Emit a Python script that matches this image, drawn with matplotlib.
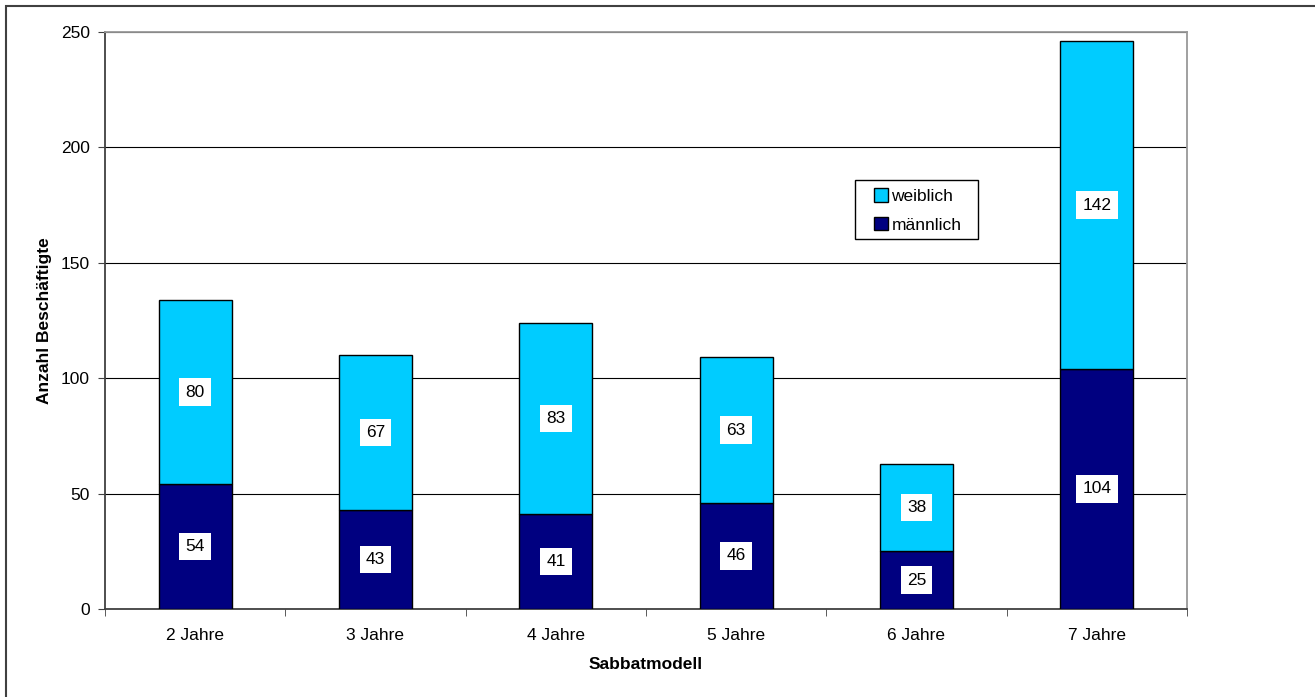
import matplotlib.pyplot as plt
from matplotlib.patches import Rectangle
import numpy as np

plt.rcParams['font.family'] = ['Liberation Sans', 'DejaVu Sans']

categories = ['2 Jahre', '3 Jahre', '4 Jahre', '5 Jahre', '6 Jahre', '7 Jahre']
maennlich = [54, 43, 41, 46, 25, 104]
weiblich = [80, 67, 83, 63, 38, 142]

W, H = 1315, 697
fig = plt.figure(figsize=(W / 100, H / 100), dpi=100)
ax = fig.add_axes([105 / W, 1 - 609 / H, (1187 - 105) / W, (609 - 32) / H])

# outer chart frame (cut off at right and bottom like the reference)
fig.patches.append(Rectangle((6 / W, -0.1), 1.2, 1 - 6 / H + 0.1, transform=fig.transFigure,
                             fill=False, edgecolor='#404040', linewidth=1.5))

fs = 12.5
x = np.arange(len(categories))
w = 0.405
b1 = ax.bar(x, maennlich, w, color='#000080', edgecolor='black', linewidth=1, label='männlich', zorder=3)
b2 = ax.bar(x, weiblich, w, bottom=maennlich, color='#00CCFF', edgecolor='black', linewidth=1,
            label='weiblich', zorder=3)

# value labels in white boxes
for i in range(len(categories)):
    for val, base in [(maennlich[i], 0), (weiblich[i], maennlich[i])]:
        ax.text(x[i], base + val / 2, str(val), ha='center', va='center', fontsize=fs, zorder=5,
                bbox=dict(facecolor='white', edgecolor='none', pad=4.5))

ax.set_xlim(-0.5, len(categories) - 0.5)
ax.set_ylim(0, 250)
ax.set_yticks(range(0, 251, 50))
ax.set_xticks(x)
ax.set_xticklabels(categories, fontsize=fs)
ax.set_xticks(np.arange(-0.5, len(categories), 1), minor=True)
ax.tick_params(axis='x', which='major', length=0, pad=14)
ax.tick_params(axis='x', which='minor', length=5, direction='out', color='#404040')
ax.tick_params(axis='y', length=5, direction='out', labelsize=fs, color='#404040', pad=6)
ax.grid(axis='y', color='black', linewidth=0.8, zorder=0)
ax.set_axisbelow(True)

for s in ['left', 'bottom']:
    ax.spines[s].set_color('#404040')
    ax.spines[s].set_linewidth(1.3)
for s in ['top', 'right']:
    ax.spines[s].set_color('#999999')
    ax.spines[s].set_linewidth(1.3)

ax.set_xlabel('Sabbatmodell', fontsize=fs, fontweight='bold', labelpad=10)
ax.set_ylabel('Anzahl Beschäftigte', fontsize=fs, fontweight='bold')
ax.yaxis.set_label_coords((52 - 105) / 1082, 0.5)

# legend without its own frame; frame drawn as a box like in the reference
ax.add_patch(Rectangle((855 / W, 1 - 239 / H), (978 - 855) / W, (239 - 180) / H,
                       transform=fig.transFigure, facecolor='white', edgecolor='black',
                       linewidth=1, zorder=6, clip_on=False))
leg = ax.legend(handles=[b2, b1], labels=['weiblich', 'männlich'], loc='center',
                bbox_to_anchor=((855 + 978) / 2 / W + 0.001, 1 - (181 + 240) / 2 / H),
                bbox_transform=fig.transFigure, frameon=False, fontsize=fs,
                handlelength=0.8, handleheight=0.8, handletextpad=0.2, labelspacing=0.75,
                borderpad=0, borderaxespad=0)
leg.set_zorder(7)

plt.savefig('out.png', dpi=100)
